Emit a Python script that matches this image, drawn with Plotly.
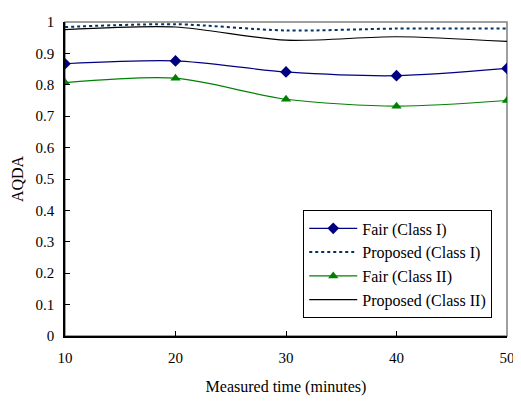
import plotly.graph_objects as go

time_min = [10, 20, 30, 40, 50]
fair_class1 = [0.867, 0.876, 0.841, 0.829, 0.852]
proposed_class1 = [0.984, 0.993, 0.973, 0.979, 0.979]
fair_class2 = [0.807, 0.821, 0.754, 0.732, 0.750]
proposed_class2 = [0.976, 0.984, 0.942, 0.953, 0.938]

y_ticks = [0, 0.1, 0.2, 0.3, 0.4, 0.5, 0.6, 0.7, 0.8, 0.9, 1]
y_tick_text = ["0", "0.1", "0.2", "0.3", "0.4", "0.5", "0.6", "0.7", "0.8", "0.9", "1"]
x_ticks = [10, 20, 30, 40, 50]

font_family = "Liberation Serif, Times New Roman, serif"

fig = go.Figure()
fig.add_trace(go.Scatter(x=time_min, y=fair_class1, name="Fair (Class I)", mode="lines+markers",
                         line=dict(color="#000080", width=1.2, shape="spline", smoothing=0.8),
                         marker=dict(symbol="diamond", size=9, color="#000080")))
fig.add_trace(go.Scatter(x=time_min, y=proposed_class1, name="Proposed (Class I)", mode="lines",
                         line=dict(color="#003366", width=2, dash="dot", shape="spline", smoothing=0.8)))
fig.add_trace(go.Scatter(x=time_min, y=fair_class2, name="Fair (Class II)", mode="lines+markers",
                         line=dict(color="#008000", width=1.2, shape="spline", smoothing=0.8),
                         marker=dict(symbol="triangle-up", size=9, color="#008000")))
fig.add_trace(go.Scatter(x=time_min, y=proposed_class2, name="Proposed (Class II)", mode="lines",
                         line=dict(color="#000000", width=1.2, shape="spline", smoothing=0.8)))

fig.add_shape(type="rect", xref="paper", yref="paper", x0=0, y0=0, x1=1, y1=1,
              line=dict(color="#808080", width=1.5), layer="below")

# page body has an 8px margin, so the figure is sized to fill the 521x401 window from (8,8)
fig.update_layout(
    width=513, height=393,
    margin=dict(l=57, r=9, t=6, b=65),
    paper_bgcolor="white", plot_bgcolor="white",
    font=dict(family=font_family, size=15, color="black"),
    showlegend=True,
    legend=dict(x=0.539, y=0.40, xanchor="left", yanchor="top",
                bordercolor="black", borderwidth=1, bgcolor="white",
                font=dict(family=font_family, size=16), tracegroupgap=0, itemwidth=48),
    xaxis=dict(range=[10, 50], tickvals=x_ticks, ticks="inside", ticklen=5, tickcolor="black",
               showline=True, linecolor="black", linewidth=1.5, showgrid=False, zeroline=False,
               ticklabelstandoff=7, ticklabeloverflow="allow",
               title=dict(text="Measured time (minutes)", standoff=16, font=dict(size=16))),
    yaxis=dict(range=[0, 1], tickvals=y_ticks, ticktext=y_tick_text, ticks="inside", ticklen=5,
               tickcolor="black", showline=True, linecolor="black", linewidth=1.5, showgrid=False,
               zeroline=False, ticklabelstandoff=6, ticklabeloverflow="allow",
               title=dict(text="AQDA", standoff=8, font=dict(size=16))),
)

fig.write_html("out.html")
